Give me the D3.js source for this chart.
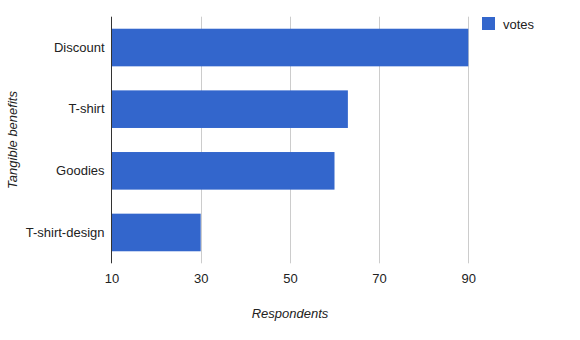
<!DOCTYPE html>
<html><head><meta charset="utf-8">
<script src="https://cdn.jsdelivr.net/npm/d3@7"></script>
<style>body{margin:0;background:#fff}svg{display:block;font-family:"Liberation Sans",Arial,sans-serif}</style>
</head><body>
<script>
const categories = ["Discount", "T-shirt", "Goodies", "T-shirt-design"];
const votes = [90, 63, 60, 30];
const xTicks = [10, 30, 50, 70, 90];
const seriesName = "votes";
const xTitle = "Respondents";
const yTitle = "Tangible benefits";

const W = 580, H = 340;
const m = {left: 111.5, right: 580 - 468.3, top: 16.7, bottom: 340 - 263.3};
const svg = d3.select("body").append("svg").attr("width", W).attr("height", H);

const x = d3.scaleLinear().domain([10, 90]).range([m.left, W - m.right]);
const y = d3.scaleBand().domain(categories).range([m.top, H - m.bottom]).paddingInner(0.39).paddingOuter(0.195);

// gridlines
svg.append("g").selectAll("line").data(xTicks.slice(1)).join("line")
  .attr("x1", d => Math.round(x(d)) + 0.5).attr("x2", d => Math.round(x(d)) + 0.5)
  .attr("y1", m.top).attr("y2", H - m.bottom)
  .attr("stroke", "#cccccc").attr("stroke-width", 1);

// bars
svg.append("g").selectAll("rect").data(categories).join("rect")
  .attr("x", x(10)).attr("y", d => y(d))
  .attr("width", (d, i) => x(votes[i]) - x(10)).attr("height", y.bandwidth())
  .attr("fill", "#3366cc");

// baseline axis line
svg.append("line").attr("x1", Math.round(x(10)) - 0.5).attr("x2", Math.round(x(10)) - 0.5)
  .attr("y1", m.top).attr("y2", H - m.bottom).attr("stroke", "#333").attr("stroke-width", 1);

// x tick labels
const xAxis = d3.axisBottom(x).tickValues(xTicks).tickSize(0).tickPadding(0);
const gx = svg.append("g").attr("transform", `translate(0,${H - m.bottom + 10})`).call(xAxis);
gx.select(".domain").remove();
gx.selectAll("text").attr("font-size", 13).attr("fill", "#222").attr("font-family", "Liberation Sans, Arial, sans-serif");

// y labels
const yAxis = d3.axisLeft(y).tickSize(0).tickPadding(7);
const gy = svg.append("g").attr("transform", `translate(${m.left},0)`).call(yAxis);
gy.select(".domain").remove();
gy.selectAll("text").attr("font-size", 13).attr("fill", "#222").attr("font-family", "Liberation Sans, Arial, sans-serif");

// titles
svg.append("text").attr("x", 290).attr("y", 318).attr("text-anchor", "middle")
  .attr("font-size", 13).attr("font-style", "italic").attr("fill", "#222").text(xTitle);
svg.append("text").attr("transform", `translate(17,140) rotate(-90)`).attr("text-anchor", "middle")
  .attr("font-size", 13).attr("font-style", "italic").attr("fill", "#222").text(yTitle);

// legend
svg.append("rect").attr("x", 482).attr("y", 17).attr("width", 13).attr("height", 13).attr("fill", "#3366cc");
svg.append("text").attr("x", 503).attr("y", 28.5).attr("font-size", 13).attr("fill", "#222").text(seriesName);
</script>
</body></html>
